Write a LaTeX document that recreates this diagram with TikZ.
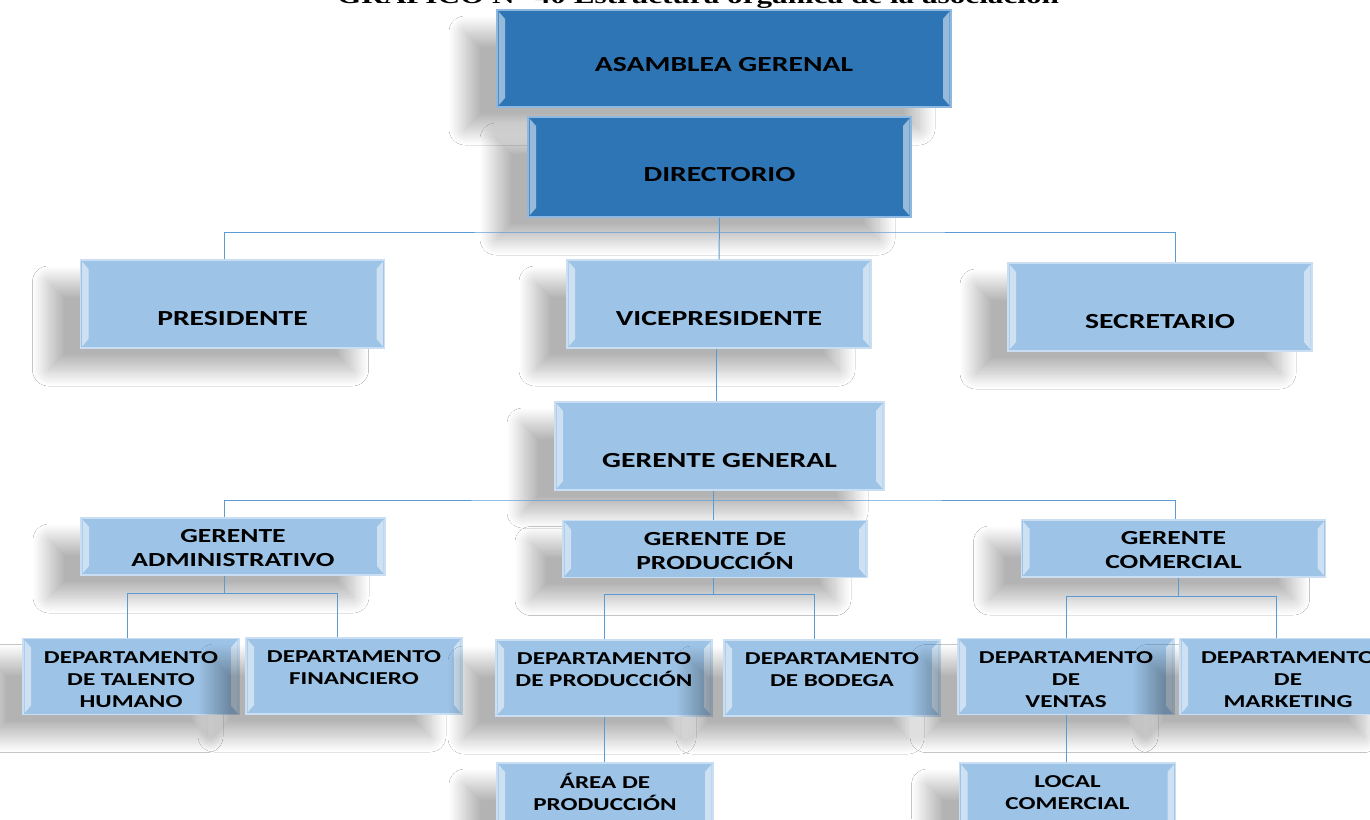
\documentclass[tikz,border=0pt]{standalone}
\usepackage{fontspec}
\usepackage{tikz}
\usetikzlibrary{calc,shadows.blur}
\newfontfamily\orgfont{Carlito}[FakeStretch=1.38]
\newfontfamily\titlefont{Liberation Serif}[FakeStretch=1.38]
\definecolor{OrgDark}{HTML}{2E75B6}
\definecolor{OrgDarkEdge}{HTML}{8FB8E0}
\definecolor{OrgLight}{HTML}{9DC3E6}
\definecolor{OrgLightEdge}{HTML}{C9DEF2}
\definecolor{OrgLine}{HTML}{5B9BD5}

\tikzset{
  bevel/.style={path picture={
      \fill[white,opacity=.5] ([xshift=1.5pt,yshift=-1.5pt]path picture bounding box.north west) -- ([xshift=8pt,yshift=-9pt]path picture bounding box.north west)
        -- ([xshift=8pt,yshift=9pt]path picture bounding box.south west) -- ([xshift=1.5pt,yshift=1.5pt]path picture bounding box.south west) -- cycle;
      \fill[white,opacity=.5] ([xshift=-1.5pt,yshift=-1.5pt]path picture bounding box.north east) -- ([xshift=-8pt,yshift=-9pt]path picture bounding box.north east)
        -- ([xshift=-8pt,yshift=9pt]path picture bounding box.south east) -- ([xshift=-1.5pt,yshift=1.5pt]path picture bounding box.south east) -- cycle;
    }},
}

\begin{document}
\begin{tikzpicture}[x=1pt,y=-1pt,
    orgbox/.style={rectangle,inner sep=0pt,line width=1.2pt,bevel,
      blur shadow={shadow xshift=-32pt,shadow yshift=-22pt,shadow blur radius=16pt,shadow blur steps=30,shadow opacity=30}},
    dark/.style={orgbox,fill=OrgDark,draw=OrgDarkEdge},
    light/.style={orgbox,fill=OrgLight,draw=OrgLightEdge},
    toprow/.style={minimum width=304pt,minimum height=88pt},
    gerrow/.style={minimum width=304pt,minimum height=57pt},
    deprow/.style={minimum width=216pt,minimum height=76pt},
    bigtxt/.style={align=center,inner sep=0pt,font=\orgfont\bfseries\fontsize{21.5}{26}\selectfont},
    midtxt/.style={align=center,inner sep=0pt,font=\orgfont\bfseries\fontsize{20}{24}\selectfont},
    smalltxt/.style={align=center,inner sep=0pt,font=\orgfont\bfseries\fontsize{18.2}{22}\selectfont},
    link/.style={OrgLine,line width=1pt},
    heading/.style={inner sep=0pt,anchor=base,font=\titlefont\bfseries\fontsize{22.6}{26}\selectfont}
  ]
  \path[use as bounding box,fill=white] (0,0) rectangle (1370,819);
  \clip (0,0) rectangle (1370,819);

  \node[heading] (titulo) at (698,4) {GRÁFICO N° 40 Estructura orgánica de la asociación};

  % directivos
  \node[dark,minimum width=454pt,minimum height=97pt,label={[bigtxt,yshift=-6pt]center:ASAMBLEA GERENAL}] (asamblea) at (724,58.5) {};
  \node[dark,minimum width=383pt,minimum height=100pt,label={[bigtxt,yshift=-8pt]center:DIRECTORIO}] (directorio) at (719.5,167) {};
  \node[light,toprow,label={[bigtxt,yshift=-15pt]center:PRESIDENTE}] (presidente) at (232.5,304) {};
  \node[light,toprow,label={[bigtxt,yshift=-15pt]center:VICEPRESIDENTE}] (vice) at (719,304) {};
  \node[light,toprow,label={[bigtxt,yshift=-15pt]center:SECRETARIO}] (secretario) at (1160,307) {};
  \node[light,toprow,minimum width=329pt,label={[bigtxt,yshift=-15pt]center:GERENTE GENERAL}] (gergeneral) at (719.5,446) {};

  % gerencias
  \node[light,gerrow,label={[midtxt,yshift=-2pt]center:{GERENTE\\ADMINISTRATIVO}}] (geradmin) at (233,546.5) {};
  \node[light,gerrow,label={[midtxt,yshift=-2pt]center:{GERENTE DE\\PRODUCCIÓN}}] (gerprod) at (715,549) {};
  \node[light,gerrow,label={[midtxt,yshift=-2pt]center:{GERENTE\\COMERCIAL}}] (gercom) at (1173.5,548.5) {};

  % departamentos
  \node[light,deprow,label={[smalltxt,yshift=-3.5pt]center:{DEPARTAMENTO\\DE TALENTO\\HUMANO}}] (dtalento) at (131,676.5) {};
  \node[light,deprow,label={[smalltxt,yshift=8pt]center:{DEPARTAMENTO\\FINANCIERO}}] (dfinanciero) at (354,676) {};
  \node[light,deprow,label={[smalltxt,yshift=8pt]center:{DEPARTAMENTO\\DE PRODUCCIÓN}}] (dproduccion) at (604,678) {};
  \node[light,deprow,label={[smalltxt,yshift=8pt]center:{DEPARTAMENTO\\DE BODEGA}}] (dbodega) at (832,678) {};
  \node[light,deprow,label={[smalltxt,yshift=-3.5pt]center:{DEPARTAMENTO\\DE\\VENTAS}}] (dventas) at (1066,676.5) {};
  \node[light,deprow,label={[smalltxt,yshift=-3.5pt]center:{DEPARTAMENTO\\DE\\MARKETING}}] (dmarketing) at (1288,676.5) {};
  \node[light,deprow,label={[smalltxt,yshift=9pt]center:{ÁREA DE\\PRODUCCIÓN}}] (areaprod) at (605,801) {};
  \node[light,deprow,label={[smalltxt,yshift=8pt]center:{LOCAL\\COMERCIAL}}] (local) at (1067.5,801) {};

  % conectores
  \coordinate (bus1) at (719.5,232);
  \coordinate (bus2) at (713,500);
  \draw[link] (directorio.south) -- (vice.north);
  \draw[link] ([xshift=-8pt]presidente.north) |- (bus1) -| ([xshift=15pt]secretario.north);
  \draw[link] ([xshift=-3pt]vice.south) -- ([xshift=-3pt]vice.south |- gergeneral.north);
  \draw[link] ([xshift=-6.5pt]gergeneral.south) -- ([xshift=-2pt]gerprod.north);
  \draw[link] ([xshift=-9pt]geradmin.north) |- (bus2) -| ([xshift=1.5pt]gercom.north);
  \draw[link] ([xshift=-9pt]geradmin.south) |- ++(0,18) coordinate (bus3);
  \draw[link] ([xshift=-4pt]dtalento.north) |- (bus3) -| ([xshift=-17pt]dfinanciero.north);
  \draw[link] ([xshift=-2pt]gerprod.south) -- ++(0,16) coordinate (bus4);
  \draw[link] (dproduccion.north) |- (bus4) -| ([xshift=-18pt]dbodega.north);
  \draw[link] ([xshift=4.5pt]gercom.south) -- ++(0,19) coordinate (bus5);
  \draw[link] (dventas.north) |- (bus5) -| ([xshift=-12pt]dmarketing.north);
  \draw[link] (dproduccion.south) -- ([xshift=-1pt]areaprod.north);
  \draw[link] (dventas.south) -- ([xshift=-1.5pt]local.north);
\end{tikzpicture}
\end{document}
